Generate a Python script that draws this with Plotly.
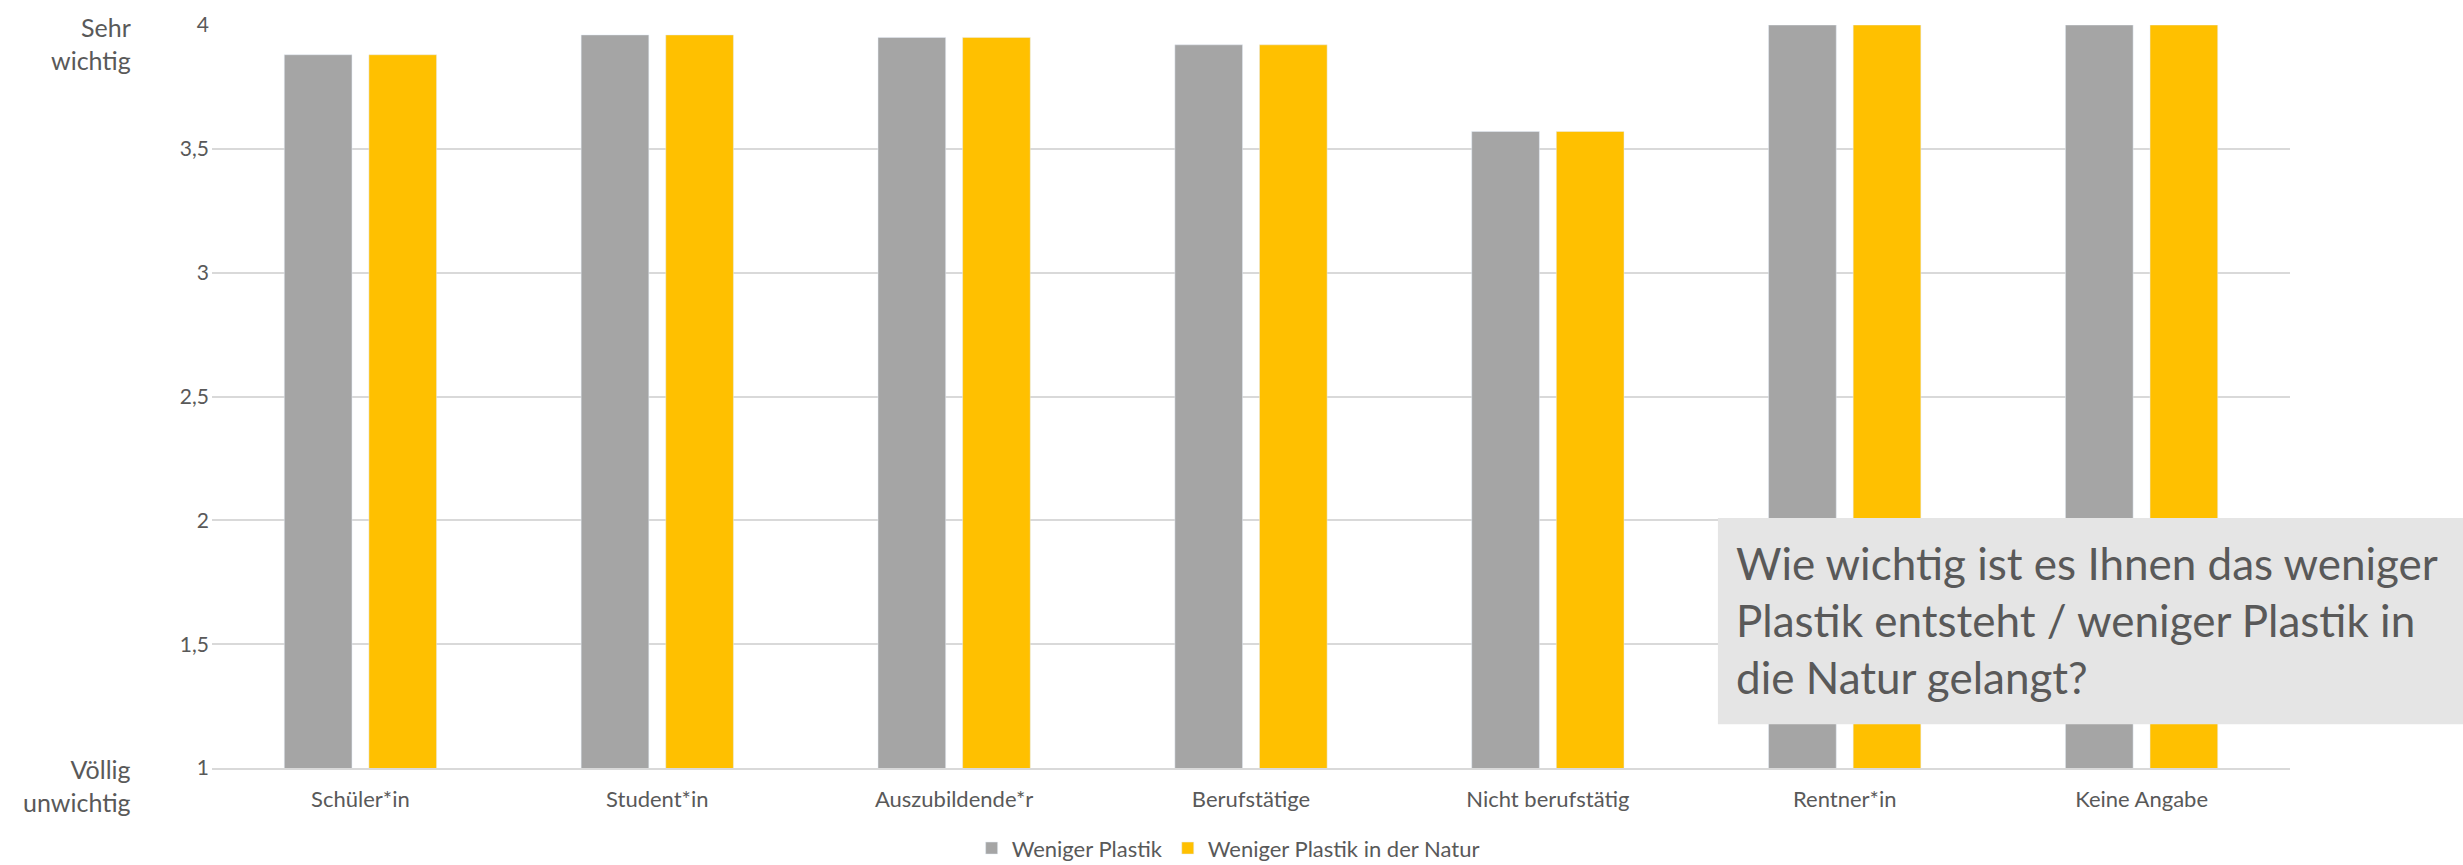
import plotly.graph_objects as go

categories = ["Schüler*in", "Student*in", "Auszubildende*r", "Berufstätige",
              "Nicht berufstätig", "Rentner*in", "Keine Angabe"]
weniger_plastik = [3.88, 3.96, 3.95, 3.92, 3.57, 4.0, 4.0]
weniger_plastik_natur = [3.88, 3.96, 3.95, 3.92, 3.57, 4.0, 4.0]
series_names = ["Weniger Plastik", "Weniger Plastik in der Natur"]
y_ticks = [1, 1.5, 2, 2.5, 3, 3.5, 4]
y_tick_labels = ["1", "1,5", "2", "2,5", "3", "3,5", "4"]

FONT = "Lato"
TXT = "#595959"

fig = go.Figure()
fig.add_bar(x=categories, y=weniger_plastik, name=series_names[0],
            marker_color="#A5A5A5")
fig.add_bar(x=categories, y=weniger_plastik_natur, name=series_names[1],
            marker_color="#FFC000")

W, H = 2463, 865
ml, mr, mt, mb = 212, 173, 25, 97

fig.update_layout(
    width=W, height=H,
    margin=dict(l=ml, r=mr, t=mt, b=mb, autoexpand=False),
    paper_bgcolor="white", plot_bgcolor="white",
    barmode="group", bargap=0.43, bargroupgap=0.2,
    font=dict(family=FONT, color=TXT, size=20),
    legend=dict(orientation="h", x=0.489, xanchor="center", y=-0.108,
                yanchor="middle", font=dict(size=22, color=TXT),
                itemwidth=30, traceorder="normal"),
    showlegend=True,
)
fig.update_yaxes(range=[1, 4], tickvals=y_ticks, ticktext=y_tick_labels,
                 showgrid=True, gridcolor="#D9D9D9", gridwidth=2,
                 zeroline=False, ticklabelstandoff=2, automargin=False,
                 tickfont=dict(size=21, color=TXT, family=FONT))
fig.update_xaxes(showline=True, linecolor="#D9D9D9", linewidth=2,
                 ticklabelstandoff=11, automargin=False,
                 tickfont=dict(size=22, color=TXT, family=FONT))

fig.add_annotation(text="Sehr<br>wichtig", xref="paper", yref="paper",
                   x=-0.038, y=0.975, xanchor="right", yanchor="middle",
                   align="right", showarrow=False,
                   font=dict(size=25, color=TXT, family=FONT))
fig.add_annotation(text="Völlig<br>unwichtig", xref="paper", yref="paper",
                   x=-0.038, y=-0.023, xanchor="right", yanchor="middle",
                   align="right", showarrow=False,
                   font=dict(size=25, color=TXT, family=FONT))

fig.add_shape(type="rect", xref="paper", yref="paper",
              x0=0.7247, x1=1.09, y0=0.059, y1=0.3365,
              fillcolor="#E5E5E5", line=dict(width=0), layer="above")
fig.add_annotation(text="Wie wichtig ist es Ihnen das weniger<br>Plastik entsteht / weniger Plastik in<br>die Natur gelangt?",
                   xref="paper", yref="paper", x=0.7325, y=0.314,
                   xanchor="left", yanchor="top", align="left",
                   showarrow=False,
                   font=dict(size=44, color=TXT, family=FONT))

fig.write_html("out.html", config={"displayModeBar": False},
               post_script="document.body.style.margin='0';")
